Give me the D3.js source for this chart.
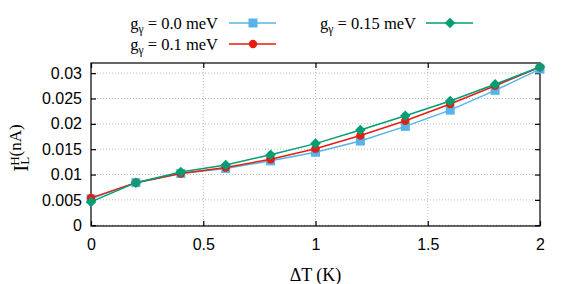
<!DOCTYPE html>
<html>
<head>
<meta charset="utf-8">
<script src="https://cdn.jsdelivr.net/npm/d3@7"></script>
<style>
  body { margin: 0; background: #fff; }
  svg { display: block; }
</style>
</head>
<body>
<svg id="chart"></svg>
<script>
const deltaT = [0, 0.2, 0.4, 0.6, 0.8, 1.0, 1.2, 1.4, 1.6, 1.8, 2.0];
const g00 = [0.0052, 0.0084, 0.0102, 0.0112, 0.0127, 0.0144, 0.0166, 0.0195, 0.0227, 0.0266, 0.0308];
const g01 = [0.0054, 0.0084, 0.0102, 0.0114, 0.0130, 0.0151, 0.0177, 0.0206, 0.0239, 0.0275, 0.0312];
const g015 = [0.0046, 0.0084, 0.0105, 0.0119, 0.0139, 0.0161, 0.0188, 0.0216, 0.0245, 0.0278, 0.0312];
const xTicks = [0, 0.5, 1, 1.5, 2];
const yTicks = [0, 0.005, 0.01, 0.015, 0.02, 0.025, 0.03];

const SERIF = '"Liberation Serif", "Times New Roman", "DejaVu Serif", serif';
const SANS = '"Liberation Sans", Arial, sans-serif';

// wide diamond, like gnuplot's pt 13
const wideDiamond = {
  draw(ctx, size) {
    const r = Math.sqrt(size) / 2;
    ctx.moveTo(0, -r); ctx.lineTo(r, 0); ctx.lineTo(0, r); ctx.lineTo(-r, 0); ctx.closePath();
  }
};

const series = [
  { g: '0.0', values: g00, color: '#56b4e9', symbol: d3.symbolSquare, size: 81, col: 0, row: 0 },
  { g: '0.1', values: g01, color: '#e51e10', symbol: d3.symbolCircle, size: 55, col: 0, row: 1 },
  { g: '0.15', values: g015, color: '#009e73', symbol: wideDiamond, size: 110, col: 1, row: 0 }
];

const W = 581, H = 284;
const margin = { top: 63, right: 41, bottom: 58, left: 91 };
const width = W - margin.left - margin.right;
const height = H - margin.top - margin.bottom;

const svg = d3.select('#chart').attr('width', W).attr('height', H);
const g = svg.append('g').attr('transform', 'translate(' + margin.left + ',' + margin.top + ')');

const x = d3.scaleLinear().domain([0, 2]).range([0, width]);
const y = d3.scaleLinear().domain([-0.00015, 0.032]).range([height, 0]);

// grid
g.append('g').selectAll('line').data(xTicks.slice(1, -1)).enter().append('line')
  .attr('x1', d => x(d)).attr('x2', d => x(d)).attr('y1', 0).attr('y2', height)
  .attr('stroke', '#aaa').attr('stroke-width', 0.8).attr('stroke-dasharray', '1,2');
g.append('g').selectAll('line').data(yTicks).enter().append('line')
  .attr('x1', 0).attr('x2', width).attr('y1', d => y(d)).attr('y2', d => y(d))
  .attr('stroke', '#aaa').attr('stroke-width', 0.8).attr('stroke-dasharray', '1,2');

// axes with inward ticks
const xAxis = g.append('g').attr('transform', 'translate(0,' + height + ')')
  .call(d3.axisBottom(x).tickValues(xTicks).tickFormat(d3.format('')).tickSizeInner(-5).tickSizeOuter(0).tickPadding(13));
const yAxis = g.append('g')
  .call(d3.axisLeft(y).tickValues(yTicks).tickFormat(d3.format('')).tickSizeInner(-5).tickSizeOuter(0).tickPadding(9));
const xTop = g.append('g')
  .call(d3.axisTop(x).tickValues(xTicks).tickFormat('').tickSizeInner(-5).tickSizeOuter(0));
const yRight = g.append('g').attr('transform', 'translate(' + width + ',0)')
  .call(d3.axisRight(y).tickValues(yTicks).tickFormat('').tickSizeInner(-5).tickSizeOuter(0));
[xAxis, yAxis, xTop, yRight].forEach(a => {
  a.select('.domain').remove();
  a.selectAll('.tick line').attr('stroke', '#000').attr('stroke-width', 1.2);
  a.selectAll('.tick text').attr('font-family', SANS).attr('font-size', 16).attr('fill', '#000');
});

g.append('rect').attr('width', width).attr('height', height)
  .attr('fill', 'none').attr('stroke', '#000').attr('stroke-width', 1.2);

// lines and markers
const line = d3.line().x((d, i) => x(deltaT[i])).y(d => y(d));
series.forEach(s => {
  g.append('path').datum(s.values)
    .attr('d', line).attr('fill', 'none').attr('stroke', s.color).attr('stroke-width', 1.5);
  g.append('g').selectAll('path').data(s.values).enter().append('path')
    .attr('d', d3.symbol().type(s.symbol).size(s.size))
    .attr('transform', (d, i) => 'translate(' + x(deltaT[i]) + ',' + y(d) + ')')
    .attr('fill', s.color);
});

// axis labels
svg.append('text')
  .attr('font-family', SERIF)
  .attr('x', margin.left + width / 2).attr('y', 281)
  .attr('text-anchor', 'middle').attr('font-size', 18)
  .text('ΔT (K)');

const yl = svg.append('text')
  .attr('font-family', SERIF)
  .attr('transform', 'translate(28,148) rotate(-90)')
  .attr('text-anchor', 'middle').attr('font-size', 21);
yl.append('tspan').text('I');
yl.append('tspan').attr('font-size', 13).attr('dy', 1).text('L');
yl.append('tspan').attr('font-size', 13).attr('dx', -9).attr('dy', -10).text('H');
yl.append('tspan').attr('font-size', 17).attr('dy', 2).text('(nA)');

// legend
const colText = [218, 416];
const colLine = [229, 426];
const rowY = [23, 44];
series.forEach(s => {
  const ly = rowY[s.row];
  const t = svg.append('text')
    .attr('font-family', SERIF)
    .attr('x', colText[s.col]).attr('y', ly + 6)
    .attr('text-anchor', 'end').attr('font-size', 16.5);
  t.append('tspan').text('g');
  t.append('tspan').attr('font-size', 11.5).attr('dy', 4).text('γ');
  t.append('tspan').attr('dy', -4).text(' = ' + s.g + ' meV');
  svg.append('line')
    .attr('x1', colLine[s.col]).attr('x2', colLine[s.col] + 47)
    .attr('y1', ly).attr('y2', ly)
    .attr('stroke', s.color).attr('stroke-width', 1.5);
  svg.append('path')
    .attr('d', d3.symbol().type(s.symbol).size(s.size))
    .attr('transform', 'translate(' + (colLine[s.col] + 24) + ',' + ly + ')')
    .attr('fill', s.color);
});
</script>
</body>
</html>
